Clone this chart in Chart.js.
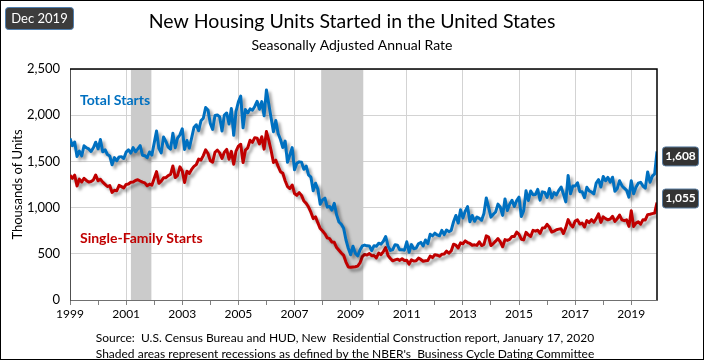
<!DOCTYPE html>
<html>
<head>
<meta charset="utf-8">
<script src="https://cdn.jsdelivr.net/npm/chart.js@4.4.1/dist/chart.umd.min.js"></script>
<style>
  body { margin: 0; background: #fff; }
  #wrap { width: 704px; height: 360px; }
</style>
</head>
<body>
<div id="wrap"><canvas id="startsChart" width="704" height="360"></canvas></div>
<script>
// monthly series, Jan 1999 .. Dec 2019 (thousands of units, SAAR)
const firstYear = 1999;
const labelYears = [1999, 2001, 2003, 2005, 2007, 2009, 2011, 2013, 2015, 2017, 2019];

const totalStarts = [
  1748, 1670, 1710, 1553, 1611, 1559, 1669, 1648, 1635, 1608, 1648, 1708, // 1999
  1636, 1737, 1604, 1626, 1575, 1559, 1463, 1541, 1507, 1549, 1551, 1532, // 2000
  1600, 1625, 1590, 1649, 1605, 1636, 1670, 1567, 1562, 1540, 1602, 1568, // 2001
  1698, 1829, 1642, 1592, 1764, 1717, 1655, 1633, 1804, 1648, 1753, 1788, // 2002
  1853, 1629, 1726, 1643, 1751, 1867, 1897, 1833, 1939, 1967, 2083, 2057, // 2003
  1911, 1846, 1998, 2003, 1981, 1828, 2002, 2024, 1905, 2072, 1782, 2042, // 2004
  2144, 2207, 1864, 2061, 2025, 2068, 2054, 2095, 2151, 2065, 2147, 1994, // 2005
  2273, 2119, 1969, 1821, 1942, 1802, 1737, 1650, 1720, 1491, 1570, 1649, // 2006
  1409, 1480, 1495, 1490, 1415, 1448, 1354, 1330, 1183, 1264, 1197, 1037, // 2007
  1084, 1103, 1005, 1013, 973, 1046, 923, 844, 820, 777, 652, 560,        // 2008
  490, 582, 505, 478, 540, 585, 594, 586, 585, 534, 588, 581,             // 2009
  614, 604, 636, 687, 583, 536, 546, 599, 594, 543, 545, 539,             // 2010
  630, 517, 600, 554, 561, 608, 623, 585, 650, 610, 711, 694,             // 2011
  723, 704, 695, 753, 708, 757, 740, 754, 847, 915, 833, 976,             // 2012
  888, 962, 1010, 847, 915, 852, 898, 883, 863, 936, 1105, 1003,          // 2013
  897, 928, 953, 1038, 1004, 916, 1094, 968, 1037, 1080, 1012, 1075,      // 2014
  1113, 904, 967, 1182, 1077, 1180, 1138, 1141, 1197, 1081, 1170, 1164,   // 2015
  1111, 1206, 1105, 1162, 1137, 1187, 1222, 1147, 1062, 1348, 1149, 1234, // 2016
  1233, 1269, 1172, 1172, 1107, 1220, 1181, 1169, 1149, 1265, 1302, 1223, // 2017
  1336, 1290, 1327, 1276, 1329, 1177, 1207, 1290, 1237, 1210, 1187, 1113, // 2018
  1291, 1149, 1220, 1264, 1274, 1233, 1211, 1386, 1274, 1340, 1365, 1608  // 2019
];

const singleFamilyStarts = [
  1350, 1317, 1351, 1235, 1308, 1277, 1317, 1294, 1276, 1283, 1300, 1353, // 1999
  1290, 1306, 1276, 1252, 1228, 1238, 1164, 1188, 1182, 1241, 1227, 1213, // 2000
  1251, 1256, 1275, 1276, 1293, 1302, 1288, 1276, 1268, 1237, 1254, 1243, // 2001
  1315, 1389, 1263, 1286, 1322, 1324, 1347, 1359, 1450, 1325, 1348, 1441, // 2002
  1396, 1271, 1394, 1370, 1413, 1446, 1465, 1525, 1515, 1563, 1625, 1585, // 2003
  1508, 1492, 1599, 1622, 1592, 1533, 1600, 1630, 1524, 1609, 1469, 1612, // 2004
  1666, 1686, 1487, 1622, 1647, 1729, 1706, 1757, 1752, 1689, 1767, 1633, // 2005
  1823, 1727, 1618, 1488, 1513, 1446, 1389, 1371, 1290, 1228, 1207, 1245, // 2006
  1153, 1133, 1162, 1132, 1071, 1046, 1006, 950, 881, 900, 834, 773,      // 2007
  747, 716, 672, 664, 627, 624, 568, 538, 509, 483, 411, 358,             // 2008
  354, 357, 360, 367, 401, 470, 493, 486, 502, 480, 481, 456,             // 2009
  508, 490, 524, 567, 481, 449, 424, 434, 442, 429, 447, 428,             // 2010
  430, 388, 435, 422, 425, 453, 439, 420, 424, 428, 475, 459,             // 2011
  490, 485, 474, 494, 498, 529, 506, 531, 604, 593, 563, 618,             // 2012
  609, 640, 622, 612, 592, 597, 591, 630, 589, 601, 694, 681,             // 2013
  589, 611, 637, 665, 629, 576, 653, 645, 656, 688, 687, 735,             // 2014
  711, 658, 651, 732, 705, 688, 754, 745, 755, 721, 779, 781,             // 2015
  819, 787, 736, 745, 760, 767, 770, 720, 783, 870, 818, 791,             // 2016
  854, 867, 822, 833, 791, 860, 838, 869, 843, 881, 932, 840,             // 2017
  900, 880, 868, 876, 906, 851, 880, 919, 867, 859, 867, 797,             // 2018
  966, 796, 832, 846, 821, 868, 867, 924, 928, 935, 941, 1055             // 2019
];

// NBER recessions, as decimal years
const recessionStarts = [2001.17, 2007.95];
const recessionEnds = [2001.9, 2009.45];

const FONT = "Lato, 'Open Sans', sans-serif";
const BLUE = '#0070c0';
const RED = '#c00000';

function toPoints(values) {
    return values.map((v, i) => ({ x: firstYear + i / 12, y: v }));
}

function roundBox(ctx, x, y, w, h, r) {
    ctx.beginPath();
    ctx.moveTo(x + r, y);
    ctx.arcTo(x + w, y, x + w, y + h, r);
    ctx.arcTo(x + w, y + h, x, y + h, r);
    ctx.arcTo(x, y + h, x, y, r);
    ctx.arcTo(x, y, x + w, y, r);
    ctx.closePath();
}

/* --- decorations: recession bars, line shadows, text --- */
const decorPlugin = {
    id: 'decor',
    beforeDraw(chart) {
        const ctx = chart.ctx;
        ctx.save();
        ctx.fillStyle = '#ffffff';
        ctx.fillRect(0, 0, chart.width, chart.height);
        ctx.restore();
    },
    beforeDatasetsDraw(chart) {
        const { ctx, chartArea, scales: { x } } = chart;
        ctx.save();
        ctx.fillStyle = '#cbcbcb';
        recessionStarts.forEach((s, i) => {
            const x0 = x.getPixelForValue(s);
            const x1 = x.getPixelForValue(recessionEnds[i]);
            ctx.fillRect(x0, chartArea.top, x1 - x0, chartArea.bottom - chartArea.top);
        });
        ctx.restore();
    },
    beforeDatasetDraw(chart) {
        const ctx = chart.ctx;
        ctx.save();
        ctx.shadowColor = 'rgba(0,0,0,0.35)';
        ctx.shadowBlur = 3;
        ctx.shadowOffsetX = 3;
        ctx.shadowOffsetY = 3;
    },
    afterDatasetDraw(chart) {
        chart.ctx.restore();
    },
    afterDraw(chart) {
        const { ctx, chartArea, scales: { y } } = chart;
        ctx.save();

        // top and right frame of plot area
        ctx.strokeStyle = '#000';
        ctx.lineWidth = 1.5;
        ctx.beginPath();
        ctx.moveTo(chartArea.left, chartArea.top);
        ctx.lineTo(chartArea.right, chartArea.top);
        ctx.lineTo(chartArea.right, chartArea.bottom);
        ctx.stroke();

        // titles
        ctx.fillStyle = '#000';
        ctx.textAlign = 'center';
        ctx.textBaseline = 'middle';
        ctx.font = '19.5px ' + FONT;
        ctx.fillText('New Housing Units Started in the United States', 352, 22);
        ctx.font = '14px ' + FONT;
        ctx.fillText('Seasonally Adjusted Annual Rate', 352, 45);

        // date badge
        roundBox(ctx, 5.5, 7.5, 68, 22, 3);
        ctx.fillStyle = '#3c3c3c';
        ctx.fill();
        ctx.strokeStyle = '#4f7fb0';
        ctx.lineWidth = 1;
        ctx.stroke();
        ctx.fillStyle = '#fff';
        ctx.font = '13px ' + FONT;
        ctx.fillText('Dec 2019', 39.5, 18.5);

        // series names
        ctx.textAlign = 'left';
        ctx.font = 'bold 14px ' + FONT;
        ctx.fillStyle = BLUE;
        ctx.fillText('Total Starts', 80, 100);
        ctx.fillStyle = RED;
        ctx.fillText('Single-Family Starts', 80, 238);

        // last-value badges
        const lastTotal = totalStarts[totalStarts.length - 1];
        const lastSingle = singleFamilyStarts[singleFamilyStarts.length - 1];
        [[lastTotal, 5], [lastSingle, -4]].forEach(([v, off]) => {
            const cy = y.getPixelForValue(v) + off;
            roundBox(ctx, 662.5, cy - 9.5, 36, 19, 3);
            ctx.fillStyle = '#333';
            ctx.fill();
            ctx.strokeStyle = '#5b7fa3';
            ctx.stroke();
            ctx.fillStyle = '#fff';
            ctx.font = 'bold 12px ' + FONT;
            ctx.textAlign = 'center';
            ctx.fillText(v.toLocaleString('en-US'), 680.5, cy);
        });

        // footer
        ctx.fillStyle = '#000';
        ctx.font = '12px ' + FONT;
        ctx.fillText('Source:  U.S. Census Bureau and HUD, New  Residential Construction report, January 17, 2020', 345, 338);
        ctx.fillText('Shaded areas represent recessions as defined by the NBER\'s  Business Cycle Dating Committee', 345, 354);

        // outer border
        ctx.strokeStyle = '#000';
        ctx.lineWidth = 1;
        ctx.strokeRect(0.5, 0.5, chart.width - 1, chart.height - 1);
        ctx.restore();
    }
};

const ctx = document.getElementById('startsChart').getContext('2d');
new Chart(ctx, {
    type: 'line',
    data: {
        datasets: [{
            label: 'Total Starts',
            data: toPoints(totalStarts),
            borderColor: BLUE,
            borderWidth: 3,
            pointRadius: 0,
            tension: 0,
            borderJoinStyle: 'round'
        }, {
            label: 'Single-Family Starts',
            data: toPoints(singleFamilyStarts),
            borderColor: RED,
            borderWidth: 3,
            pointRadius: 0,
            tension: 0,
            borderJoinStyle: 'round'
        }]
    },
    options: {
        responsive: false,
        animation: false,
        layout: { padding: { top: 69, right: 47, left: 0, bottom: 0 } },
        plugins: {
            legend: { display: false },
            tooltip: { enabled: false }
        },
        scales: {
            x: {
                type: 'linear',
                min: firstYear,
                max: firstYear + (totalStarts.length - 1) / 12,
                afterFit(s) { s.height = 60; },
                afterBuildTicks(s) {
                    const ticks = [];
                    for (let yr = firstYear; yr <= 2019; yr++) ticks.push({ value: yr });
                    s.ticks = ticks;
                },
                ticks: {
                    autoSkip: false,
                    maxRotation: 0,
                    padding: 2,
                    color: '#000',
                    font: { family: FONT, size: 12 },
                    callback: v => labelYears.includes(v) ? String(v) : ''
                },
                grid: {
                    color: c => (c.tick && labelYears.includes(c.tick.value)) ? '#d3d3d3' : 'rgba(0,0,0,0)',
                    tickColor: '#808080',
                    tickLength: 5
                },
                border: { color: '#707070' }
            },
            y: {
                min: 0,
                max: 2500,
                afterFit(s) { s.width = 70; },
                ticks: {
                    stepSize: 500,
                    padding: 10,
                    color: '#000',
                    font: { family: FONT, size: 13 }
                },
                grid: { color: '#d3d3d3', drawTicks: false },
                border: { color: '#505050' },
                title: {
                    display: true,
                    text: 'Thousands of Units',
                    color: '#000',
                    font: { family: FONT, size: 13 },
                    padding: { top: 10, bottom: 0 }
                }
            }
        }
    },
    plugins: [decorPlugin]
});
</script>
</body>
</html>
